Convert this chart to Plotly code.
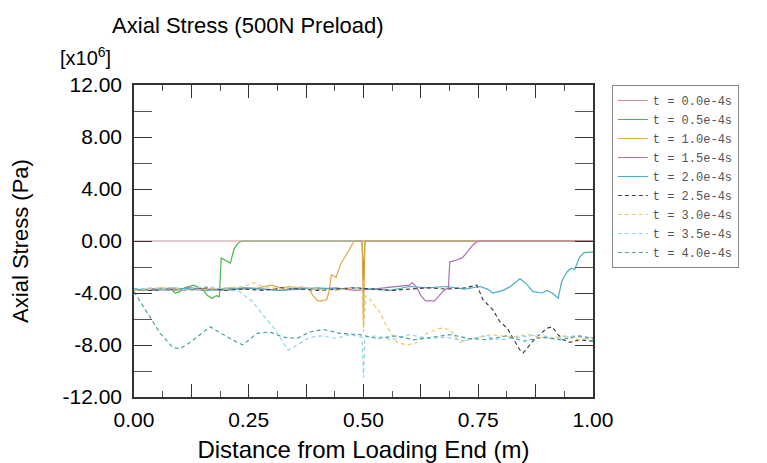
import plotly.graph_objects as go

# ---- data (stress in units of 1e6 Pa) ----
names = ["t = 0.0e-4s", "t = 0.5e-4s", "t = 1.0e-4s", "t = 1.5e-4s", "t = 2.0e-4s",
         "t = 2.5e-4s", "t = 3.0e-4s", "t = 3.5e-4s", "t = 4.0e-4s"]

x00 = [0.00, 1.00]
y00 = [0.0, 0.0]

x05 = [0.00, 0.02, 0.04, 0.06, 0.08, 0.09, 0.10, 0.11, 0.13, 0.15, 0.16, 0.17, 0.18, 0.186,
       0.19, 0.20, 0.21, 0.218, 0.226, 0.234, 0.497, 0.500, 0.503, 1.00]
y05 = [-3.8, -3.7, -3.8, -3.7, -3.7, -4.0, -3.9, -3.6, -3.4, -3.7, -4.2, -4.4, -4.2, -4.3,
       -1.3, -1.5, -1.7, -0.6, -0.2, 0.0, 0.0, -3.0, 0.0, 0.0]

x10 = [0.00, 0.03, 0.06, 0.09, 0.12, 0.15, 0.18, 0.21, 0.24, 0.27, 0.30, 0.32, 0.34, 0.36,
       0.38, 0.39, 0.40, 0.41, 0.42, 0.425, 0.43, 0.44, 0.45, 0.46, 0.47, 0.48, 0.497, 0.500,
       0.503, 1.00]
y10 = [-3.8, -3.7, -3.6, -3.8, -3.6, -3.8, -3.7, -3.6, -3.7, -3.6, -3.4, -3.6, -3.5, -3.7,
       -3.6, -4.2, -4.6, -4.6, -4.5, -3.9, -2.6, -2.8, -1.8, -1.2, -0.5, 0.0, 0.0, -6.5,
       0.0, 0.0]

x15 = [0.00, 0.04, 0.08, 0.12, 0.16, 0.20, 0.24, 0.28, 0.32, 0.36, 0.40, 0.44, 0.48, 0.52,
       0.55, 0.58, 0.60, 0.606, 0.615, 0.625, 0.635, 0.645, 0.655, 0.665, 0.675, 0.685,
       0.688, 0.70, 0.715, 0.725, 0.736, 0.745, 0.754, 1.00]
y15 = [-3.8, -3.7, -3.8, -3.6, -3.7, -3.8, -3.6, -3.7, -3.8, -3.6, -3.7, -3.6, -3.8, -3.7,
       -3.6, -3.5, -3.4, -3.2, -3.5, -4.2, -4.6, -4.6, -4.6, -4.2, -3.8, -3.6,
       -1.6, -1.5, -1.3, -0.9, -0.4, -0.1, 0.0, 0.0]

x20 = [0.00, 0.04, 0.08, 0.12, 0.16, 0.20, 0.24, 0.28, 0.32, 0.36, 0.40, 0.44, 0.48, 0.52,
       0.56, 0.60, 0.64, 0.68, 0.72, 0.754, 0.77, 0.782, 0.804, 0.82, 0.841, 0.855, 0.869,
       0.889, 0.90, 0.911, 0.924, 0.932, 0.943, 0.952, 0.96, 0.97, 0.98, 1.00]
y20 = [-3.7, -3.8, -3.6, -3.7, -3.8, -3.7, -3.6, -3.7, -3.8, -3.7, -3.6, -3.7, -3.6, -3.7,
       -3.8, -3.5, -3.6, -3.5, -3.7, -3.5, -3.7, -4.0, -3.8, -3.5, -2.9, -3.3, -3.9,
       -4.0, -3.8, -4.0, -4.4, -3.1, -2.4, -2.1, -2.2, -1.3, -0.9, -0.85]

x25 = [0.00, 0.04, 0.08, 0.12, 0.16, 0.20, 0.24, 0.28, 0.32, 0.36, 0.40, 0.44, 0.48, 0.52,
       0.56, 0.60, 0.64, 0.68, 0.72, 0.747, 0.76, 0.782, 0.797, 0.813, 0.826, 0.841, 0.848,
       0.863, 0.874, 0.90, 0.911, 0.924, 0.935, 0.95, 0.97, 1.00]
y25 = [-3.7, -3.8, -3.7, -3.8, -3.6, -3.8, -3.7, -3.8, -3.6, -3.7, -3.8, -3.7, -3.6, -3.7,
       -3.8, -3.7, -3.6, -3.7, -3.6, -3.4, -4.5, -5.3, -6.2, -6.7, -7.5, -8.4, -8.6,
       -8.0, -7.5, -6.7, -6.6, -7.2, -7.6, -7.8, -7.6, -7.7]

x30 = [0.00, 0.04, 0.08, 0.12, 0.16, 0.20, 0.24, 0.26, 0.28, 0.32, 0.36, 0.40, 0.44, 0.48,
       0.497, 0.500, 0.505, 0.514, 0.536, 0.551, 0.573, 0.595, 0.617, 0.638, 0.667, 0.688,
       0.71, 0.74, 0.78, 0.82, 0.86, 0.90, 0.94, 0.97, 1.00]
y30 = [-3.8, -3.7, -3.6, -3.8, -3.7, -3.6, -3.5, -3.2, -3.5, -3.7, -3.5, -3.7, -3.8, -3.6,
       -3.7, -7.0, -4.2, -4.5, -5.5, -6.6, -7.8, -8.0, -7.8, -7.1, -6.7, -6.8,
       -7.8, -7.5, -7.2, -7.4, -7.2, -7.5, -7.3, -7.6, -7.4]

x35 = [0.00, 0.04, 0.08, 0.12, 0.16, 0.20, 0.231, 0.259, 0.281, 0.303, 0.325, 0.336, 0.355,
       0.383, 0.41, 0.44, 0.47, 0.497, 0.500, 0.503, 0.53, 0.56, 0.60, 0.64, 0.68, 0.72,
       0.76, 0.80, 0.84, 0.88, 0.92, 0.96, 1.00]
y35 = [-3.7, -3.6, -3.8, -3.7, -3.5, -3.7, -3.9, -4.7, -5.7, -6.6, -7.8, -8.4, -8.0,
       -7.4, -7.3, -7.5, -7.2, -7.4, -10.5, -7.4, -7.3, -7.6, -7.2, -7.5, -7.4, -7.7,
       -7.3, -7.6, -7.4, -7.2, -7.5, -7.3, -7.6]

x40 = [0.00, 0.007, 0.03, 0.057, 0.085, 0.10, 0.122, 0.145, 0.166, 0.19, 0.209, 0.237,
       0.268, 0.296, 0.325, 0.355, 0.383, 0.412, 0.449, 0.492, 0.53, 0.57, 0.61, 0.65,
       0.69, 0.73, 0.77, 0.81, 0.85, 0.89, 0.93, 0.97, 1.00]
y40 = [-3.9, -4.3, -5.6, -7.1, -8.2, -8.3, -7.8, -7.2, -6.6, -7.1, -7.5, -8.0,
       -7.1, -7.0, -7.4, -7.5, -7.0, -6.8, -7.1, -7.2, -7.5, -7.3, -7.6, -7.4,
       -7.2, -7.5, -7.6, -7.3, -7.7, -7.4, -7.6, -7.3, -7.5]

xs = [x00, x05, x10, x15, x20, x25, x30, x35, x40]
ys = [y00, y05, y10, y15, y20, y25, y30, y35, y40]

x_tickvals = [0.0, 0.25, 0.5, 0.75, 1.0]
x_ticktext = ["0.00", "0.25", "0.50", "0.75", "1.00"]
y_tickvals = [-12, -8, -4, 0, 4, 8, 12]
y_ticktext = ["-12.00", "-8.00", "-4.00", "0.00", "4.00", "8.00", "12.00"]

# ---- styles ----
colors = ["#c89098", "#48b848", "#e0a848", "#b070b0", "#4aaec0",
          "#404040", "#f0c870", "#90d4ec", "#4f9ea0"]
dashes = ["solid"] * 5 + ["4px,3px"] * 4

fig = go.Figure()
for i, (name, xv, yv, c, d) in enumerate(zip(names, xs, ys, colors, dashes)):
    fig.add_trace(go.Scatter(x=xv, y=yv, name=name, mode="lines",
                             xaxis="x2" if i == 0 else "x",
                             line=dict(color=c, width=1.2, dash=d)))

FONT = "Liberation Sans, Arial, sans-serif"
# page body adds an 8px offset, so the figure is 8px smaller than the window
fig.update_layout(
    width=759, height=455,
    margin=dict(l=126, r=174, t=77, b=66),
    paper_bgcolor="white", plot_bgcolor="white",
    font=dict(family=FONT, color="black"),
    title=dict(text="Axial Stress (500N Preload)", x=0.316, xanchor="center",
               y=0.962, yanchor="middle", font=dict(size=22, family=FONT, color="black")),
    showlegend=True,
    legend=dict(x=1.041, xanchor="left", y=1.0, yanchor="top",
                bgcolor="white", bordercolor="#888888", borderwidth=1,
                font=dict(family="Liberation Mono, DejaVu Sans Mono, monospace",
                          size=12, color="#555555")),
    xaxis=dict(range=[0, 1], tickmode="linear", tick0=0, dtick=0.125,
               showticklabels=False,
               ticks="inside", ticklen=13, tickwidth=1.2, tickcolor="#333",
               minor=dict(dtick=0.0625, ticks="inside", ticklen=6, tickcolor="#555"),
               showline=True, linecolor="#333", linewidth=1.5, mirror="allticks",
               showgrid=False, zeroline=False, automargin=False,
               title=dict(text="Distance from Loading End (m)", font=dict(size=24), standoff=44)),
    xaxis2=dict(overlaying="x", matches="x", range=[0, 1], side="bottom",
                tickmode="array", tickvals=x_tickvals, ticktext=x_ticktext,
                ticks="", showline=False, showgrid=False, zeroline=False,
                automargin=False, ticklabelstandoff=8, tickfont=dict(size=21)),
    yaxis=dict(range=[-12, 12], tickmode="array", tickvals=y_tickvals, ticktext=y_ticktext,
               ticks="inside", ticklen=18, tickwidth=1.2, tickcolor="#333",
               minor=dict(dtick=2, ticks="inside", ticklen=9, tickcolor="#555"),
               showline=True, linecolor="#333", linewidth=1.5, mirror="allticks",
               showgrid=False, zeroline=False, ticklabelstandoff=6, automargin=False,
               tickfont=dict(size=21),
               title=dict(text="Axial Stress (Pa)", font=dict(size=22), standoff=38)),
    annotations=[dict(text="[x10<sup>6</sup>]", xref="paper", yref="paper",
                      x=-0.045, y=1.045, xanchor="right", yanchor="bottom",
                      showarrow=False, font=dict(size=20, family=FONT))],
)

fig.write_html("out.html")
